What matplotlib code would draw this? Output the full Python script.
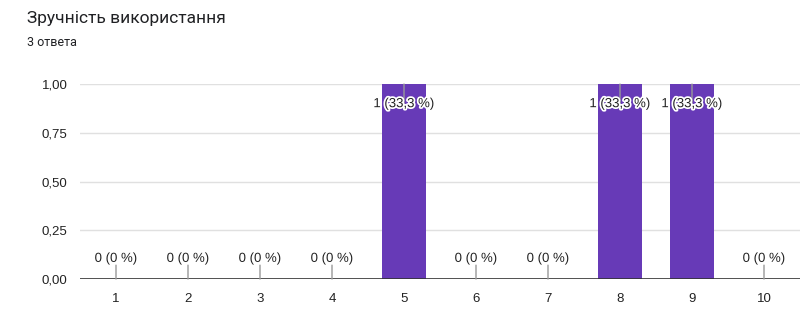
import matplotlib.pyplot as plt
import matplotlib.patheffects as pe
import numpy as np

categories = ['1', '2', '3', '4', '5', '6', '7', '8', '9', '10']
counts = [0, 0, 0, 0, 1, 0, 0, 1, 1, 0]
total = 3
yticks = [0, 0.25, 0.5, 0.75, 1.0]

fig = plt.figure(figsize=(8, 3.2), dpi=100)
ax = fig.add_axes([0.1, 0.128, 0.9, 0.6094])

x = np.arange(len(categories))
ax.bar(x, counts, width=0.61, color='#673ab7', zorder=2)

ax.set_xlim(-0.5, len(categories) - 0.5)
ax.set_ylim(0, 1.0)
ax.set_yticks(yticks)
ax.set_yticklabels([('%.2f' % t).replace('.', ',') for t in yticks])
ax.set_xticks(x)
ax.set_xticklabels(categories)
ax.tick_params(length=0, labelsize=9.5, colors='#222222')
for lab in ax.get_yticklabels() + ax.get_xticklabels():
    lab.set_fontfamily('Liberation Sans')
ax.tick_params(axis='y', pad=9)
ax.tick_params(axis='x', pad=10)

for t in yticks[1:]:
    ax.axhline(t, color='#e0e0e0', lw=1, zorder=1)
ax.axhline(0, color='#333333', lw=1.2, zorder=3)
for s in ax.spines.values():
    s.set_visible(False)

stroke = [pe.withStroke(linewidth=2.5, foreground='white')]
for xi, c in zip(x, counts):
    pct = ('%.1f' % (100.0 * c / total)).replace('.', ',')
    if pct.endswith(',0'):
        pct = pct[:-2]
    label = '%d (%s %%)' % (c, pct)
    if c == max(counts):
        ax.annotate('', xy=(xi, c), xytext=(0, -14), textcoords='offset points',
                    arrowprops=dict(arrowstyle='-', color='#999999', lw=1, shrinkA=0, shrinkB=0),
                    zorder=4)
        ax.annotate(label, xy=(xi, c), xytext=(0, -14.5), textcoords='offset points',
                    ha='center', va='center', fontsize=9.5, color='#222222',
                    fontfamily='Liberation Sans', path_effects=stroke, zorder=5)
    else:
        ax.annotate('', xy=(xi, c), xytext=(0, 10), textcoords='offset points',
                    arrowprops=dict(arrowstyle='-', color='#999999', lw=1, shrinkA=0, shrinkB=0),
                    zorder=4)
        ax.annotate(label, xy=(xi, c), xytext=(0, 14.5), textcoords='offset points',
                    ha='center', va='center', fontsize=9.5, color='#222222',
                    fontfamily='Liberation Sans', path_effects=stroke, zorder=5)

fig.text(27 / 800, 1 - 18 / 320, 'Зручність використання', fontsize=12.5,
         fontfamily='Roboto', color='#202124', va='center', ha='left')
fig.text(27 / 800, 1 - 43 / 320, '3 ответа', fontsize=9,
         fontfamily='Roboto', color='#202124', va='center', ha='left')

fig.savefig('out.png', dpi=100)
